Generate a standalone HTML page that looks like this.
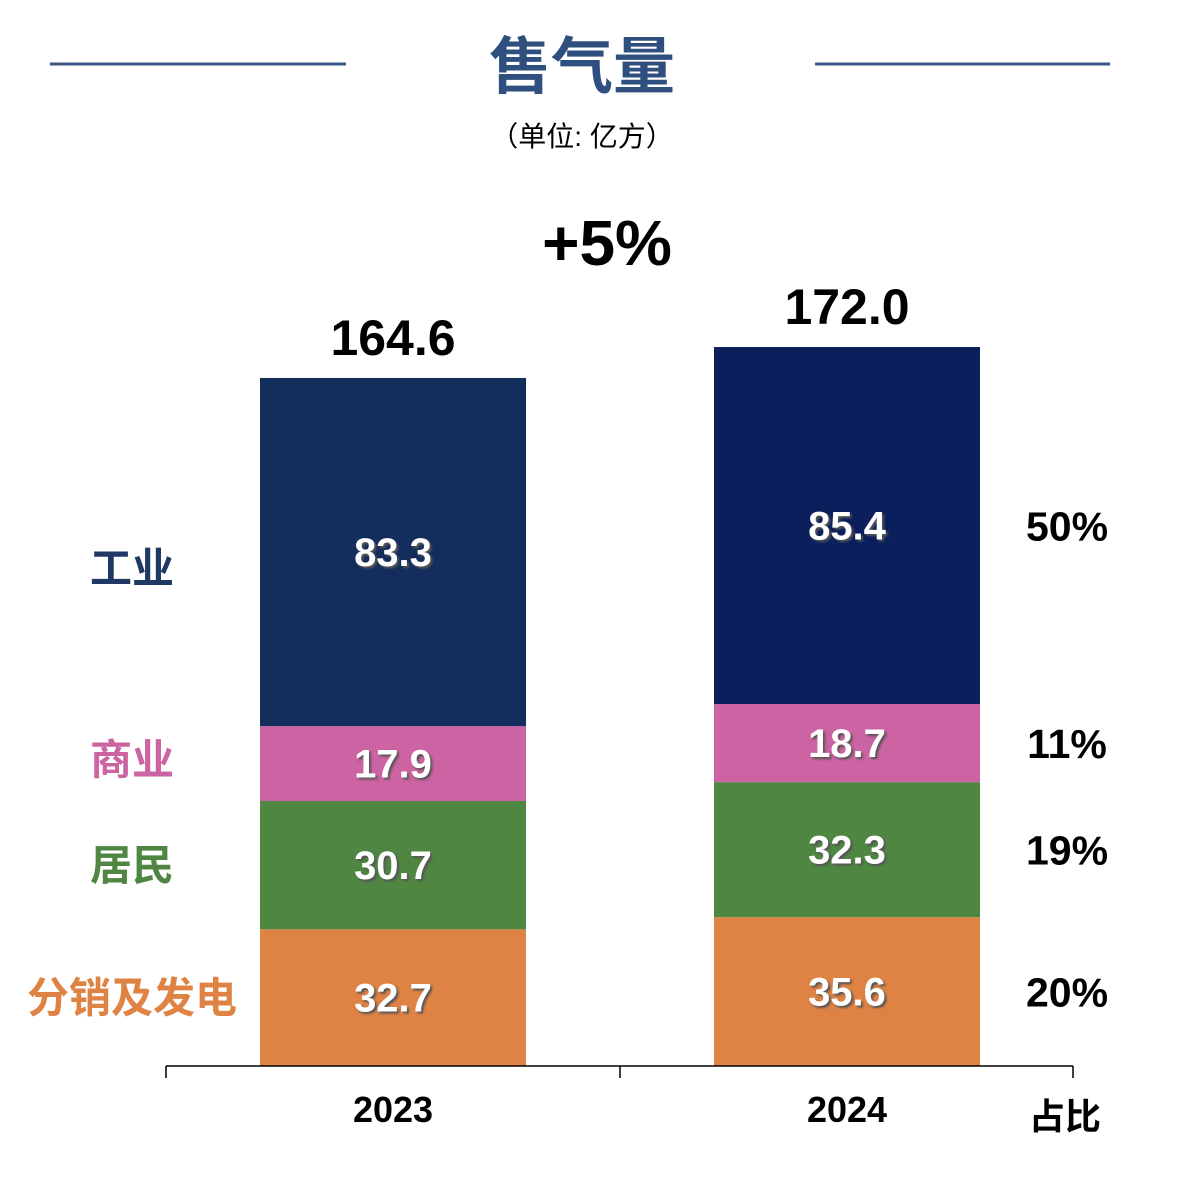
<!DOCTYPE html>
<html><head><meta charset="utf-8"><style>
body{margin:0;background:#fff;}
svg text{font-family:"Liberation Sans","Noto Sans CJK SC",sans-serif;font-weight:bold;}
</style></head><body>
<svg id="c" width="1196" height="1184">
<line x1="50" y1="64" x2="346" y2="64" stroke="#3a5585" stroke-width="3"/>
<line x1="815" y1="64" x2="1110" y2="64" stroke="#3a5585" stroke-width="3"/>
<text x="582" y="88" font-size="62" fill="#2f4f7f" text-anchor="middle">售气量</text>
<text x="582" y="146" font-size="28" fill="#000" text-anchor="middle" style="font-weight:normal">（单位: 亿方）</text>
<text x="607" y="265" font-size="64" fill="#000" text-anchor="middle">+5%</text>
<g id="bars"></g>
<line x1="166" y1="1066" x2="1073" y2="1066" stroke="#000" stroke-width="1.5"/>
<g id="ticks"></g>
<text x="1065" y="1129" font-size="36" fill="#000" text-anchor="middle">占比</text>
</svg>
<script>
const years=["2023","2024"];
const industrial=[83.3,85.4];
const commercial=[17.9,18.7];
const residential=[30.7,32.3];
const distribution=[32.7,35.6];
const totals=["164.6","172.0"];
const shares2024=["20%","19%","11%","50%"];
const catNames=["分销及发电","居民","商业","工业"];
const ns="http://www.w3.org/2000/svg";
const base=1066, scale=4.18, barW=266;
const xCenter=i=>393+i*454;
const y=v=>base-v*scale;
const colors=[["#df8344","#4f8742","#cc63a2","#132d5c"],["#df8344","#4f8742","#cc63a2","#0b1f5c"]];
const labelColors=["#df8344","#4f8742","#cc63a2","#1f3864"];
const series=[distribution,residential,commercial,industrial];
const g=document.getElementById('bars');
function mk(tag,attrs,txt){const e=document.createElementNS(ns,tag);for(const k in attrs)e.setAttribute(k,attrs[k]);if(txt!==undefined)e.textContent=txt;g.appendChild(e);return e;}
years.forEach((yr,i)=>{
  let cum=0;
  series.forEach((s,k)=>{
    const v=s[i];
    const r=mk('rect',{x:xCenter(i)-barW/2,y:y(cum+v),width:barW,height:v*scale,fill:colors[i][k]});
    
    
    const t=mk('text',{x:xCenter(i),y:y(cum+v/2)+14,'font-size':40,fill:'#fff','text-anchor':'middle',style:'text-shadow:2px 2px 2px #555'},v.toFixed(1));
    
    
    if(i===1){
      const p=mk('text',{x:1067,y:y(cum+v/2)+15,'font-size':41,fill:'#000','text-anchor':'middle'},shares2024[k]);
      
      
    }
    if(i===0){
      const c=mk('text',{x:132,y:y(cum+v/2)+(k===3?31:k===2?11:15),'font-size':42,fill:labelColors[k],'text-anchor':'middle'},catNames[k]);
      
      
    }
    cum+=v;
  });
  const tt=mk('text',{x:xCenter(i),y:y(cum)-23,'font-size':50,fill:'#000','text-anchor':'middle'},totals[i]);
  
  
  const yl=mk('text',{x:xCenter(i),y:1122,'font-size':36,fill:'#000','text-anchor':'middle'},yr);
  
  
});
[166,620,1073].forEach((x,j)=>{
  const l=mk('line',{x1:x,y1:1066,x2:x,y2:1078,stroke:'#000','stroke-width':1.5});
  
  
});
</script>
</body></html>
